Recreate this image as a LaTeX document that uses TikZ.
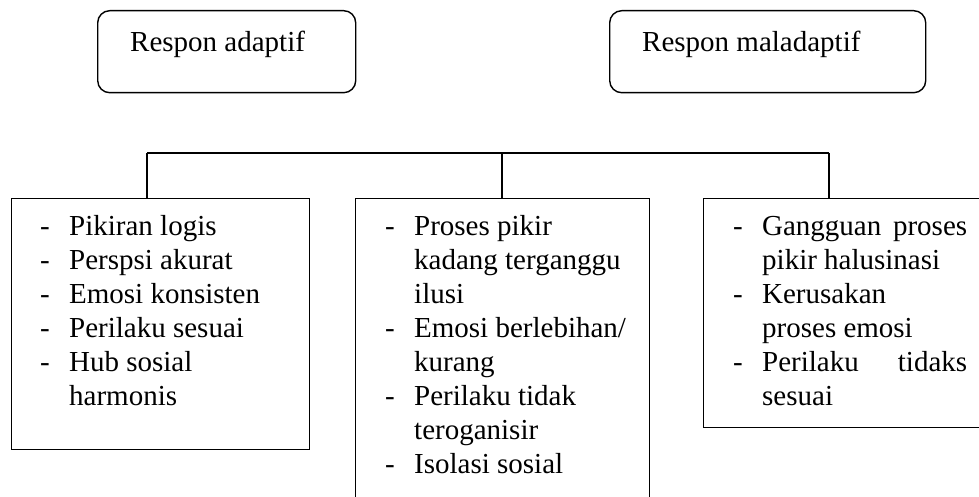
\documentclass[tikz,border=0pt]{standalone}
\usepackage{fontspec}
\setmainfont{Liberation Serif}
\newcommand\dashline[1]{\makebox[29pt][l]{-}#1\par}
\newcommand\contline[1]{\hspace*{29pt}#1\par}
\newcommand\listtext[2]{\parbox[t]{#1}{\fontsize{29}{34}\selectfont\parindent=0pt #2}}
\tikzset{
  pbox/.style={draw, line width=1.4pt, rectangle, anchor=north west, inner sep=0pt},
  rbox/.style={pbox, rounded corners=12pt},
  ltext/.style={anchor=base west, inner sep=0pt, font=\fontsize{29}{34}\selectfont},
  conn/.style={line width=1.4pt}
}
\begin{document}
\begin{tikzpicture}[x=1pt,y=-1pt]
\useasboundingbox (0,0) rectangle (979,497);
\clip (0,0) rectangle (979,497);
% top boxes
\node[rbox, minimum width=258pt, minimum height=82pt] (ra) at (97,10) {};
\node[ltext] (rat) at (130,52) {Respon adaptif};
\node[rbox, minimum width=316pt, minimum height=82pt] (rm) at (609,10) {};
\node[ltext] (rmt) at (642,52) {Respon maladaptif};
% bottom boxes
\node[pbox, minimum width=298pt, minimum height=251pt] (b1) at (11,198) {};
\node[pbox, minimum width=294pt, minimum height=320pt] (b2) at (355,198) {};
\node[pbox, minimum width=290pt, minimum height=229pt] (b3) at (703,198) {};
\node[ltext] (t1) at (40,235) {\listtext{260pt}{%
\dashline{Pikiran logis}
\dashline{Perspsi akurat}
\dashline{Emosi konsisten}
\dashline{Perilaku sesuai}
\dashline{Hub sosial}
\contline{harmonis}}};
\node[ltext] (t2) at (385,235) {\listtext{260pt}{%
\dashline{Proses pikir}
\contline{kadang terganggu}
\contline{ilusi}
\dashline{Emosi berlebihan/}
\contline{kurang}
\dashline{Perilaku tidak}
\contline{teroganisir}
\dashline{Isolasi sosial}}};
\node[ltext] (t3) at (733,235) {\listtext{240pt}{%
\dashline{\makebox[205pt][s]{Gangguan proses}}
\contline{pikir halusinasi}
\dashline{Kerusakan}
\contline{proses emosi}
\dashline{\makebox[205pt][s]{Perilaku\hfill tidaks}}
\contline{sesuai}}};
% connectors
\coordinate (jl) at (147,153);
\coordinate (jr) at (829,153);
\coordinate (jm) at (502,153);
\draw[conn] (jl) -- (jr);
\draw[conn] (jl) -- (jl |- b1.north);
\draw[conn] (jm) -- (jm |- b2.north);
\draw[conn] (jr) -- (jr |- b3.north);
\end{tikzpicture}
\end{document}
